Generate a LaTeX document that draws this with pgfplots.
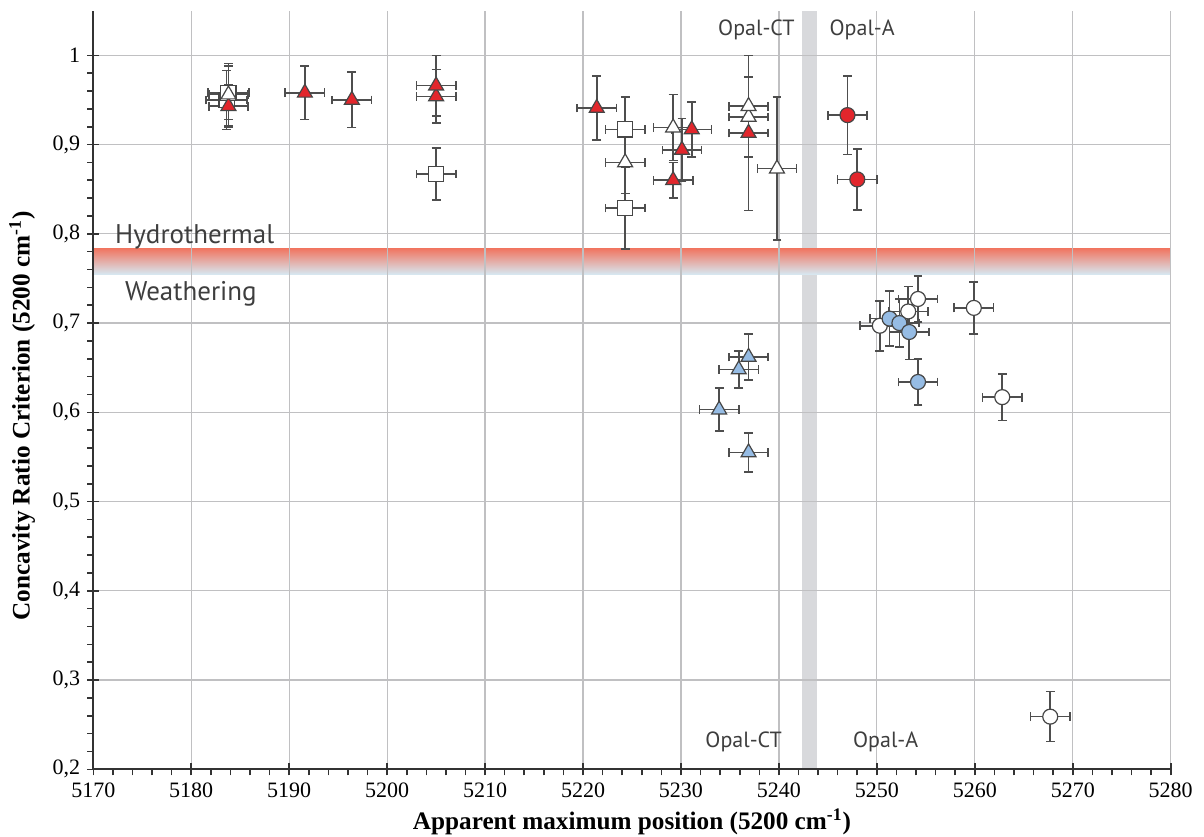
\documentclass[border=0pt]{standalone}
\usepackage{pgfplots}
\pgfplotsset{compat=1.18}
\usepackage{fontspec}
\setmainfont{Liberation Serif}
\newfontfamily\annot{PT Sans}
\definecolor{gridc}{RGB}{192,192,194}
\definecolor{redf}{RGB}{226,38,44}
\definecolor{bluef}{RGB}{150,188,228}
\definecolor{mk}{RGB}{70,70,70}
\definecolor{eb}{RGB}{78,78,78}
\definecolor{annotc}{RGB}{62,62,62}
\definecolor{bandgray}{RGB}{216,217,220}
\definecolor{hred}{RGB}{240,120,100}
\definecolor{hmid}{RGB}{232,208,205}
\definecolor{hblue}{RGB}{214,234,244}
\pgfplotsset{
  dp/.style={only marks, mark options={draw=mk, fill=#1, line width=0.6pt, solid},
    error bars/x dir=both, error bars/x explicit, error bars/y dir=both, error bars/y explicit,
    error bars/error bar style={draw=eb, line width=0.8pt, solid},
    error bars/error mark options={draw=eb, line width=0.8pt, mark size=2.2pt, rotate=90}},
}
\begin{document}
\begin{tikzpicture}
\begin{axis}[
  at={(0,0)}, anchor=south west,
  scale only axis, width=538.7pt, height=379.3pt,
  set layers,
  xmin=5170, xmax=5280, ymin=0.2, ymax=1.05,
  xtick={5170,5180,...,5280},
  ytick={0.2,0.3,0.4,0.5,0.6,0.7,0.8,0.9,1},
  minor x tick num=4, minor y tick num=4,
  axis x line*=bottom, axis y line*=left,
  axis line style={line width=0.9pt, draw=black!80, -},
  tick align=center,
  major tick length=6pt, minor tick length=3pt,
  every tick/.style={line width=0.8pt, draw=black!80},
  minor y tick style={xshift=-1.5pt},
  minor x tick style={yshift=-1.5pt},
  xmajorgrids, ymajorgrids,
  major grid style={draw=gridc, line width=0.6pt},
  /pgf/number format/assume math mode=true,
  xticklabel style={/pgf/number format/1000 sep={}, font=\fontsize{11}{13}\selectfont},
  yticklabel style={/pgf/number format/use comma, /pgf/number format/fixed, /pgf/number format/precision=1, font=\fontsize{11}{13}\selectfont},
  xlabel={Apparent maximum position (5200 cm\textsuperscript{-1})},
  ylabel={Concavity Ratio Criterion (5200 cm\textsuperscript{-1})},
  every axis x label/.style={at={(axis description cs:0.5,0)}, anchor=center, yshift=-26.4pt, font=\bfseries\fontsize{12.6}{14}\selectfont},
  every axis y label/.style={at={(axis description cs:0,0.5)}, anchor=center, rotate=90, yshift=35.6pt, xshift=-13pt, font=\bfseries\fontsize{12.6}{14}\selectfont},
  clip=false,
]
\begin{pgfonlayer}{axis background}
\fill[bandgray] (axis cs:5242.4,0.2) rectangle (axis cs:5243.9,1.05);
\shade[top color=hred, middle color=hmid, bottom color=hblue] (axis cs:5170,0.783) rectangle (axis cs:5280,0.754);
\end{pgfonlayer}

% white squares
\addplot[dp=white, mark=square*, mark size=3.8pt] table[x=x,y=y,x error=ex,y error=ey] {
x y ex ey
5183.6 0.950 2.1 0.033
5183.8 0.958 2.1 0.030
5205.0 0.867 2.0 0.029
5224.3 0.917 2.0 0.036
5224.3 0.829 2.0 0.046
};
% red triangles
\addplot[dp=redf, mark=triangle*, mark size=4.3pt] table[x=x,y=y,x error=ex,y error=ey] {
x y ex ey
5183.8 0.943 2.0 0.024
5191.6 0.958 2.0 0.030
5196.4 0.950 2.0 0.031
5205.0 0.954 2.0 0.030
5205.0 0.966 2.0 0.034
5221.4 0.941 2.0 0.036
5229.2 0.860 2.0 0.020
5230.1 0.894 2.0 0.035
5231.1 0.917 2.0 0.031
5236.9 0.913 2.0 0.087
};
% white triangles
\addplot[dp=white, mark=triangle*, mark size=4.3pt] table[x=x,y=y,x error=ex,y error=ey] {
x y ex ey
5183.8 0.956 2.0 0.035
5224.3 0.880 2.0 0.035
5229.2 0.919 2.0 0.037
5236.9 0.931 2.0 0.045
5236.9 0.943 2.0 0.057
5239.8 0.873 2.0 0.080
};
% red circles
\addplot[dp=redf, mark=*, mark size=3.75pt] table[x=x,y=y,x error=ex,y error=ey] {
x y ex ey
5247.0 0.933 2.0 0.044
5248.0 0.861 2.0 0.034
};
% blue triangles
\addplot[dp=bluef, mark=triangle*, mark size=4.3pt] table[x=x,y=y,x error=ex,y error=ey] {
x y ex ey
5236.9 0.662 2.0 0.026
5235.9 0.648 2.0 0.021
5233.9 0.603 2.0 0.024
5236.9 0.555 2.0 0.022
};
% white circles
\addplot[dp=white, mark=*, mark size=3.75pt] table[x=x,y=y,x error=ex,y error=ey] {
x y ex ey
5254.2 0.727 2.0 0.026
5253.2 0.713 2.0 0.028
5250.3 0.697 2.0 0.028
5259.9 0.717 2.0 0.029
5262.8 0.617 2.0 0.026
5267.7 0.259 2.0 0.028
};
% blue circles
\addplot[dp=bluef, mark=*, mark size=3.75pt] table[x=x,y=y,x error=ex,y error=ey] {
x y ex ey
5251.3 0.705 2.0 0.031
5252.3 0.700 2.0 0.027
5253.3 0.690 2.0 0.031
5254.2 0.634 2.0 0.026
};

\node[font=\annot\fontsize{13.5}{15}\selectfont, text=annotc, anchor=west, inner sep=0pt] at (axis cs:5172.2,0.797) {Hydrothermal};
\node[font=\annot\fontsize{13.5}{15}\selectfont, text=annotc, anchor=west, inner sep=0pt] at (axis cs:5173.2,0.733) {Weathering};
\node[font=\annot\fontsize{11}{13}\selectfont, text=annotc] at (axis cs:5237.7,1.028) {Opal-CT};
\node[font=\annot\fontsize{11}{13}\selectfont, text=annotc] at (axis cs:5248.5,1.028) {Opal-A};
\node[font=\annot\fontsize{11}{13}\selectfont, text=annotc] at (axis cs:5236.4,0.231) {Opal-CT};
\node[font=\annot\fontsize{11}{13}\selectfont, text=annotc] at (axis cs:5250.9,0.231) {Opal-A};
\end{axis}
\pgfresetboundingbox
\path (-46.65pt,-33.35pt) rectangle (555.35pt,384.65pt);
\end{tikzpicture}
\end{document}
